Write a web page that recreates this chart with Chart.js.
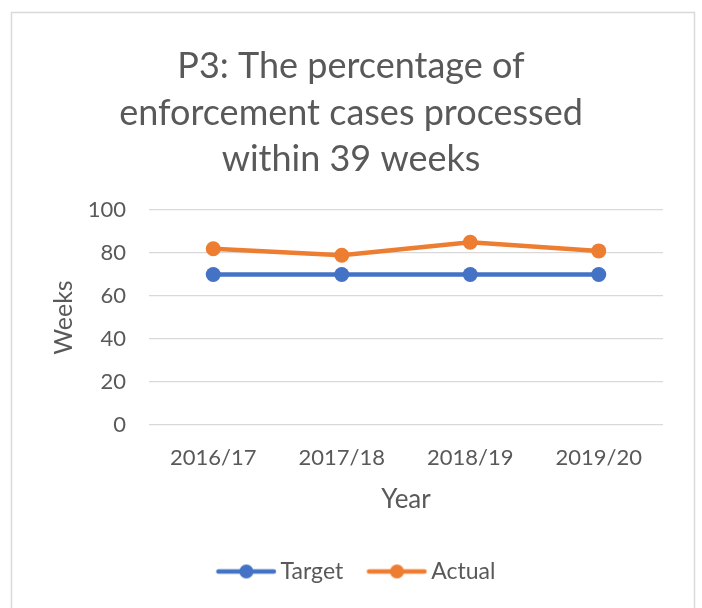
<!DOCTYPE html>
<html>
<head>
<meta charset="utf-8">
<script src="https://cdn.jsdelivr.net/npm/chart.js@4"></script>
<style>
  html, body { margin: 0; padding: 0; background: #ffffff; }
  #wrap { width: 702px; height: 608px; position: relative; }
</style>
</head>
<body>
<div id="wrap"><canvas id="c" width="702" height="608"></canvas></div>
<script>
const categories = ["2016/17", "2017/18", "2018/19", "2019/20"];
const targetValues = [70, 70, 70, 70];
const actualValues = [82, 79, 85, 81];
const yTicks = [0, 20, 40, 60, 80, 100];
const titleLines = ["P3: The percentage of", "enforcement cases processed", "within 39 weeks"];

const FONT = "Lato, 'Open Sans', sans-serif";
const TEXT = "#595959";
const BLUE = "#4472C4";
const ORANGE = "#ED7D31";

// legend symbol: line with a dot, drawn off-centre inside a wider transparent image
function legendSymbol(color) {
  const cv = document.createElement("canvas");
  cv.width = 80; cv.height = 18;
  const g = cv.getContext("2d");
  g.strokeStyle = color; g.lineWidth = 4.5; g.lineCap = "round";
  g.beginPath(); g.moveTo(20.5, 9); g.lineTo(76, 9); g.stroke();
  g.fillStyle = color;
  g.beginPath(); g.arc(48.5, 9, 7, 0, Math.PI * 2); g.fill();
  return cv;
}

const frame = {
  id: "frame",
  beforeDraw(chart) {
    const ctx = chart.ctx;
    ctx.save();
    ctx.fillStyle = "#ffffff";
    ctx.fillRect(0, 0, chart.width, chart.height);
    ctx.strokeStyle = "#d9d9d9";
    ctx.lineWidth = 1.5;
    ctx.strokeRect(11.5, 12.5, 683, 640);
    ctx.restore();
  }
};

new Chart(document.getElementById("c"), {
  type: "line",
  data: {
    labels: categories,
    datasets: [
      { label: "Target", data: targetValues, borderColor: BLUE, backgroundColor: BLUE,
        borderWidth: 4.5, pointRadius: 7.5, pointHoverRadius: 7.5, pointBackgroundColor: BLUE,
        pointBorderWidth: 0, tension: 0, symbol: legendSymbol(BLUE) },
      { label: "Actual", data: actualValues, borderColor: ORANGE, backgroundColor: ORANGE,
        borderWidth: 4.5, pointRadius: 7.5, pointHoverRadius: 7.5, pointBackgroundColor: ORANGE,
        pointBorderWidth: 0, tension: 0, symbol: legendSymbol(ORANGE) }
    ]
  },
  options: {
    responsive: false,
    animation: false,
    devicePixelRatio: 1,
    layout: { padding: { left: 12, right: 12, top: 12, bottom: 15 } },
    plugins: {
      title: {
        display: true,
        text: titleLines,
        color: TEXT,
        font: { family: FONT, size: 36, weight: "normal", lineHeight: 1.297 },
        padding: { top: 31, bottom: 27 }
      },
      legend: {
        position: "bottom",
        labels: {
          color: TEXT,
          font: { family: FONT, size: 23 },
          usePointStyle: true,
          pointStyleWidth: 62.5,
          boxHeight: 18,
          padding: 14,
          generateLabels(chart) {
            return chart.data.datasets.map((ds, i) => ({
              text: ds.label,
              fillStyle: ds.borderColor,
              strokeStyle: ds.borderColor,
              lineWidth: 0,
              pointStyle: ds.symbol,
              fontColor: TEXT,
              hidden: false,
              datasetIndex: i
            }));
          }
        }
      },
      tooltip: { enabled: false }
    },
    scales: {
      x: {
        offset: true,
        grid: { display: false, drawTicks: false },
        border: { display: false },
        ticks: { color: TEXT, font: { family: FONT, size: 22 }, padding: 20 },
        title: { display: true, text: "Year", color: TEXT, font: { family: FONT, size: 26 }, padding: { top: 4, bottom: 31 } },
        afterFit(scale) { scale.height = 121; }
      },
      y: {
        min: 0, max: 100,
        afterBuildTicks(scale) { scale.ticks = yTicks.map(v => ({ value: v })); },
        grid: { color: "#d9d9d9", lineWidth: 1.3, drawTicks: false },
        border: { display: false },
        ticks: { color: TEXT, font: { family: FONT, size: 22 }, padding: 23 },
        title: { display: true, text: "Weeks", color: TEXT, font: { family: FONT, size: 25 }, padding: { top: 37, bottom: 0 } },
        afterFit(scale) { scale.width = 137; }
      },
      yRight: {
        position: "right",
        min: 0, max: 100,
        grid: { display: false, drawTicks: false },
        border: { display: false },
        ticks: { display: false },
        afterFit(scale) { scale.width = 27; }
      }
    }
  },
  plugins: [frame]
});
</script>
</body>
</html>
